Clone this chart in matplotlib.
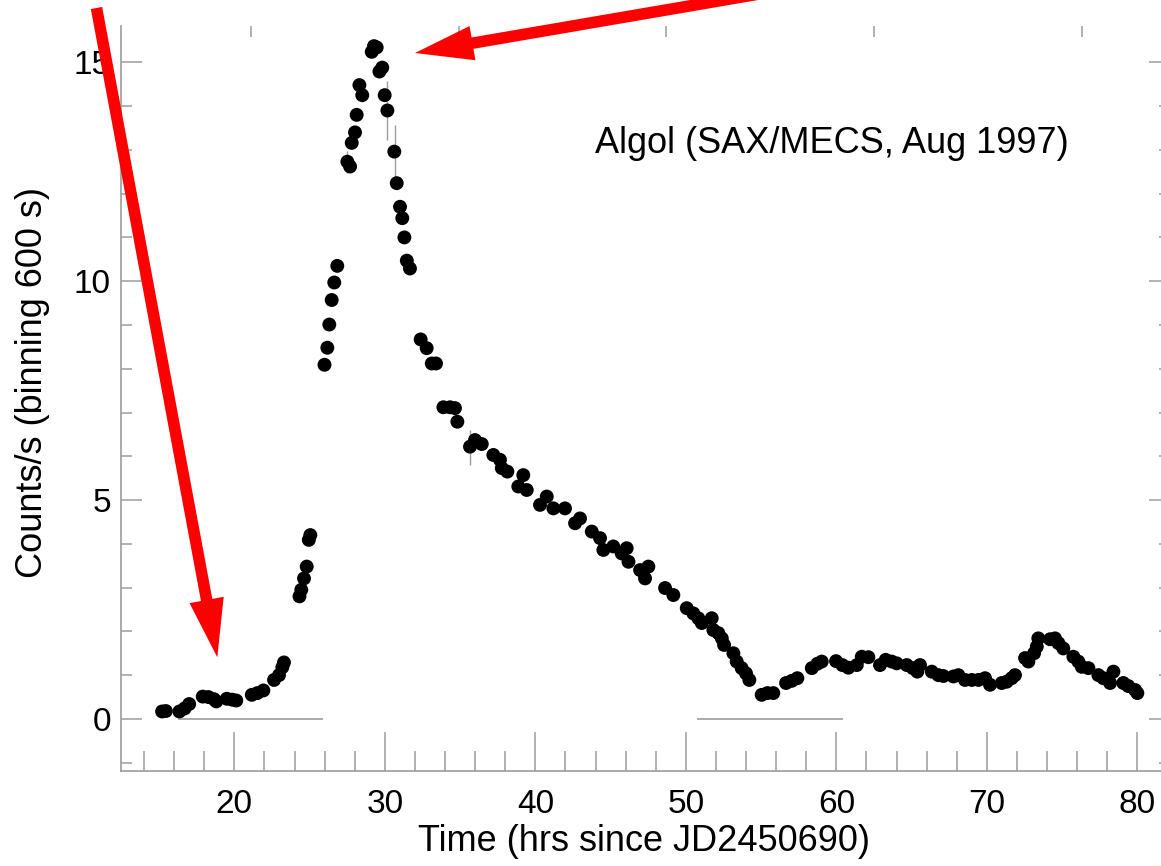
import matplotlib
matplotlib.use("Agg")
import matplotlib.pyplot as plt
from matplotlib.patches import FancyArrowPatch
from matplotlib.ticker import MultipleLocator

plt.rcParams["font.family"] = ["Liberation Sans", "DejaVu Sans"]

# Light curve (hrs, counts/s)
t_hrs = [15.2, 15.45, 16.35, 16.7, 17.0, 17.9, 18.27, 18.65, 18.8, 19.5, 19.85, 20.13,
         21.16, 21.53, 21.93, 22.64, 22.97, 23.19, 23.3,
         24.33, 24.45, 24.63, 24.81, 24.95, 25.05,
         25.99, 26.18, 26.31, 26.47, 26.64, 26.84,
         27.51, 27.69, 27.8, 28.02, 28.13, 28.31, 28.5,
         29.13, 29.28, 29.46, 29.64, 29.83, 29.99, 30.17,
         30.63, 30.79, 31.01, 31.16, 31.3, 31.46, 31.67,
         32.38, 32.78, 33.12, 33.4, 33.89, 34.33, 34.66, 34.82,
         35.66, 35.99, 36.44, 37.21, 37.65, 37.77, 38.14,
         38.87, 39.2, 39.43, 40.31, 40.76, 41.2, 41.97, 42.64, 42.97,
         43.75, 44.3, 44.52, 45.18, 45.74, 46.07, 46.19, 46.96, 47.29, 47.51,
         48.62, 49.17, 50.06, 50.5, 50.83, 51.06, 51.72,
         51.83, 52.16, 52.39, 52.54, 53.16, 53.38, 53.71, 54.0, 54.22,
         55.04, 55.42, 55.81, 56.66, 57.04, 57.41, 58.37, 58.74, 59.03,
         59.98, 60.4, 60.8, 61.36, 61.69, 62.13, 62.9, 63.28, 63.68, 64.01,
         64.68, 65.08, 65.38, 65.56, 66.34, 66.78,
         67.11, 67.78, 68.11, 68.55, 69.0, 69.44, 69.88, 70.21,
         70.99, 71.32, 71.65, 71.87, 72.54, 72.76, 73.14, 73.32, 73.42,
         74.2, 74.53, 74.76, 75.08, 75.75, 76.08, 76.31, 76.75,
         77.41, 77.74, 78.19, 78.41, 79.07, 79.4, 79.85, 80.0]
rate = [0.17, 0.18, 0.17, 0.24, 0.34, 0.51, 0.50, 0.45, 0.40, 0.46, 0.44, 0.42,
        0.55, 0.59, 0.65, 0.89, 1.0, 1.18, 1.29,
        2.8, 2.95, 3.21, 3.48, 4.09, 4.2,
        8.09, 8.48, 9.01, 9.57, 9.97, 10.35,
        12.73, 12.62, 13.16, 13.4, 13.8, 14.48, 14.25,
        15.24, 15.37, 15.34, 14.79, 14.88, 14.25, 13.9,
        12.96, 12.24, 11.70, 11.44, 11.0, 10.47, 10.29,
        8.67, 8.47, 8.12, 8.12, 7.12, 7.12, 7.10, 6.79,
        6.22, 6.37, 6.28, 6.03, 5.92, 5.73, 5.65,
        5.31, 5.57, 5.23, 4.89, 5.08, 4.81, 4.81, 4.47, 4.58,
        4.28, 4.13, 3.86, 3.94, 3.78, 3.90, 3.59, 3.40, 3.21, 3.48,
        2.99, 2.83, 2.53, 2.41, 2.30, 2.19, 2.30,
        2.03, 1.96, 1.84, 1.69, 1.50, 1.31, 1.16, 1.04, 0.89,
        0.55, 0.59, 0.59, 0.82, 0.87, 0.93, 1.16, 1.26, 1.31,
        1.32, 1.23, 1.17, 1.23, 1.42, 1.41, 1.23, 1.35, 1.31, 1.27,
        1.23, 1.16, 1.08, 1.23, 1.08, 1.0,
        0.98, 0.97, 1.0, 0.89, 0.89, 0.89, 0.93, 0.78,
        0.82, 0.85, 0.93, 1.0, 1.39, 1.31, 1.50, 1.65, 1.84,
        1.82, 1.84, 1.73, 1.61, 1.42, 1.31, 1.19, 1.16,
        1.0, 0.93, 0.82, 1.08, 0.82, 0.75, 0.66, 0.59]

# the few error bars that stick out of the dots
err_t = [27.51, 28.45, 30.17, 30.7, 35.66]
err_y = [12.73, 14.3, 13.9, 12.94, 6.2]
err_dy = [0.25, 0.2, 0.67, 0.63, 0.4]

# zero-level segments
zero_start = [16.28, 50.72]
zero_end = [25.91, 60.47]

# orbital phase ticks on top (0.2 phase = 13.8 h)
phase_ticks = [21.1, 34.9, 48.7, 62.5, 76.35]

GRAY = "#9c9c9c"
W, H = 1161, 866

fig = plt.figure(figsize=(W / 100, H / 100), dpi=100)
ax = fig.add_axes([120.7 / W, 1 - 771 / H, (1170 - 120.7) / W, (771 - 26) / H])

ax.hlines([0] * len(zero_start), zero_start, zero_end, color=GRAY, lw=1.2, zorder=1)
ax.errorbar(err_t, err_y, yerr=err_dy, fmt="none", ecolor=GRAY, elinewidth=1.0, zorder=1)
ax.scatter(t_hrs, rate, s=100, color="black", edgecolors="none", zorder=3)

ax.set_xlim(12.45, 82.17)
ax.set_ylim(-1.19, 15.83)

ax.xaxis.set_major_locator(MultipleLocator(10))
ax.xaxis.set_minor_locator(MultipleLocator(2))
ax.yaxis.set_major_locator(MultipleLocator(5))
ax.yaxis.set_minor_locator(MultipleLocator(1))

for s in ["top", "right"]:
    ax.spines[s].set_visible(False)
for s in ["left", "bottom"]:
    ax.spines[s].set_color(GRAY)
    ax.spines[s].set_linewidth(1.2)

ax.tick_params(which="both", direction="in", color=GRAY, width=1.1, right=True, top=False)
ax.tick_params(axis="x", which="major", length=28, labelsize=24, pad=13)
ax.tick_params(axis="x", which="minor", length=14.4)
ax.tick_params(axis="y", which="major", length=15, labelsize=24, pad=7)
ax.tick_params(axis="y", which="minor", length=8)

sec = ax.secondary_xaxis("top")
sec.set_xticks(phase_ticks, labels=[])
sec.tick_params(direction="in", length=8, color=GRAY, width=1.1)
sec.spines["top"].set_visible(False)

ax.set_xlabel("Time (hrs since JD2450690)", fontsize=26)
ax.set_ylabel("Counts/s (binning 600 s)", fontsize=26)
ax.xaxis.set_label_coords(0.499, -0.0717)
ax.yaxis.set_label_coords(-0.0674, 0.521)

ax.text(43.95, 12.93, "Algol (SAX/MECS, Aug 1997)", fontsize=26, ha="left", va="baseline")

# red arrows (pixel positions of the picture, y from top)
arrows = [((96.5, 8), (217.3, 657.3)), ((800, -13), (415, 53))]
for (x0, y0), (x1, y1) in arrows:
    fig.add_artist(FancyArrowPatch(
        (x0 / W, 1 - y0 / H), (x1 / W, 1 - y1 / H), transform=fig.transFigure,
        arrowstyle="simple,head_length=42,head_width=25,tail_width=8.3",
        mutation_scale=1, color="#ff0000", lw=0, shrinkA=0, shrinkB=0, zorder=5))

fig.savefig("out.png", dpi=100)
